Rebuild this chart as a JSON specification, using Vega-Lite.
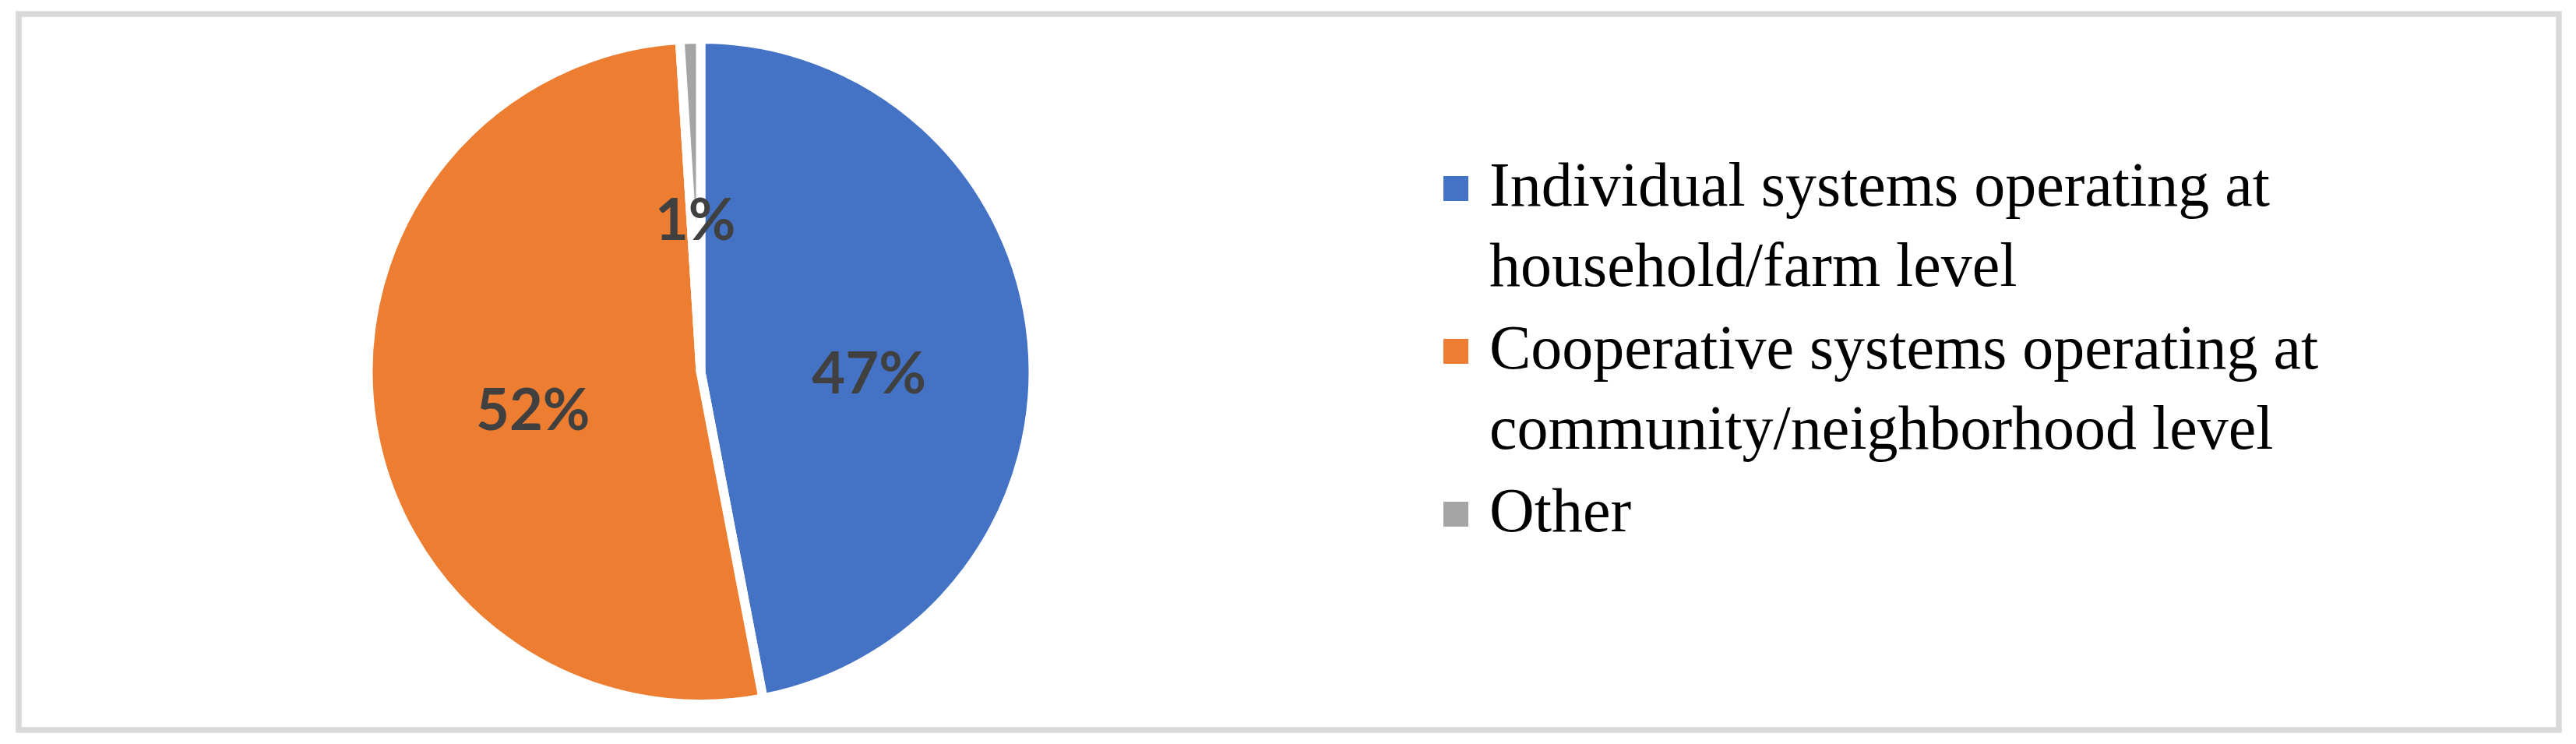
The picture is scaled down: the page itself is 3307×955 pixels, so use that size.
{
  "$schema": "https://vega.github.io/schema/vega-lite/v6.json",
  "width": 3307,
  "height": 955,
  "autosize": {"type": "fit", "contains": "padding"},
  "padding": {"left": 24, "top": 18, "right": 22, "bottom": 18},
  "background": "white",
  "view": {"stroke": "#d9d9d9", "strokeWidth": 7.5, "fill": "white"},
  "config": {
    "view": {"stroke": "#d9d9d9", "strokeWidth": 7.5},
    "style": {"guide-label": {"lineHeight": 103}}
  },
  "data": {
    "values": [
      {"category": "Individual systems operating at household/farm level", "share": 0.47, "idx": 1},
      {"category": "Cooperative systems operating at community/neighborhood level", "share": 0.52, "idx": 2},
      {"category": "Other", "share": 0.01, "idx": 3}
    ]
  },
  "encoding": {
    "theta": {"field": "share", "type": "quantitative", "stack": true},
    "order": {"field": "idx", "type": "quantitative"}
  },
  "layer": [
    {
      "mark": {"type": "arc", "outerRadius": 427, "stroke": "white", "strokeWidth": 12, "x": 875.5, "y": 459},
      "encoding": {
        "color": {
          "field": "category",
          "type": "nominal",
          "scale": {
            "domain": ["Individual systems operating at household/farm level", "Cooperative systems operating at community/neighborhood level", "Other"],
            "range": ["#4472C4", "#ED7D31", "#A5A5A5"]
          },
          "legend": {
            "title": null,
            "orient": "none",
            "legendX": 1805,
            "legendY": 184,
            "symbolType": "square",
            "symbolSize": 1024,
            "symbolStrokeWidth": 0,
            "labelFont": "Liberation Serif",
            "labelFontSize": 80,
            "labelColor": "black",
            "labelLimit": 3000,
            "labelOffset": 3,
            "labelBaseline": "top",
            "rowPadding": 26,
            "encoding": {"labels": {"dy": {"value": -41}}},
            "labelExpr": "datum.label == 'Individual systems operating at household/farm level' ? ['Individual systems operating at', 'household/farm level'] : datum.label == 'Cooperative systems operating at community/neighborhood level' ? ['Cooperative systems operating at', 'community/neighborhood level'] : datum.label"
          }
        }
      }
    },
    {
      "mark": {"type": "text", "radius": 217, "x": 875.5, "y": 459, "dy": 26, "font": "Lato", "fontWeight": "bold", "fontSize": 74, "fill": "#404040"},
      "encoding": {
        "detail": {"field": "category", "type": "nominal"},
        "text": {"field": "share", "type": "quantitative", "format": ".0%"}
      }
    }
  ]
}
